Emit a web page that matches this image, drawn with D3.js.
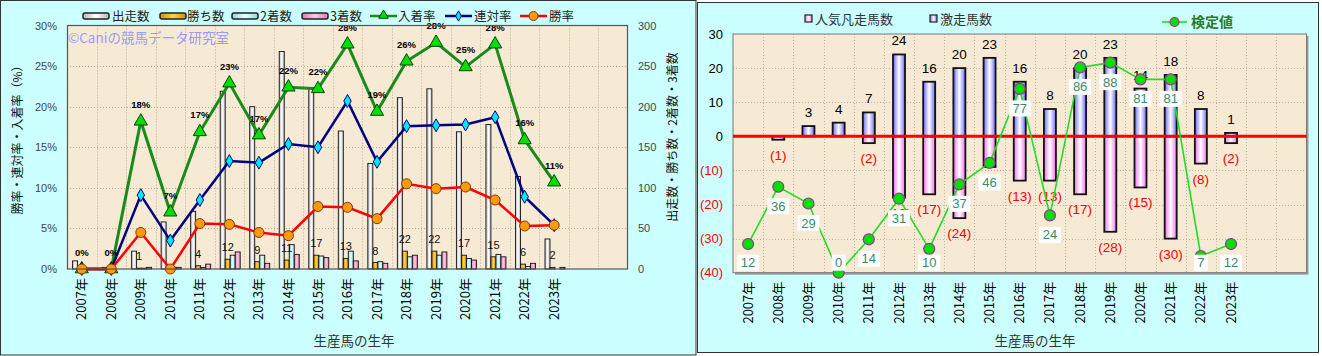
<!DOCTYPE html>
<html><head><meta charset="utf-8">
<script src="https://cdn.jsdelivr.net/npm/d3@7"></script>
<style>body{margin:0;background:#fff}svg{display:block}</style>
</head><body><svg id="c" width="1322" height="356"></svg>
<script>
// ---------------- data ----------------
const years = ["2007年","2008年","2009年","2010年","2011年","2012年","2013年","2014年","2015年","2016年","2017年","2018年","2019年","2020年","2021年","2022年","2023年"];
const slotCount = 19; // two empty slots after 2023
// left chart (counts, right axis)
const runners = [10,2,22,58,71,219,200,268,222,170,130,211,222,169,178,114,37];
const wins    = [0,0,1,0,4,12,9,11,17,13,8,22,22,17,15,6,2];
const seconds = [0,0,1,2,2,17,17,30,16,22,9,15,17,13,18,3,0];
const thirds  = [0,0,2,2,6,21,7,18,14,10,7,17,21,11,15,7,2];
// left chart (rates %, left axis)
const placeRate    = [0,0,18.2,7.0,16.9,22.9,16.5,22.4,22.2,27.7,19.4,25.6,27.9,24.9,27.7,15.9,10.7];
const placeLabels  = ["0%","0%","18%","7%","17%","23%","17%","22%","22%","28%","19%","26%","28%","25%","28%","16%","11%"];
const quinellaRate = [0,0,9.1,3.5,8.5,13.3,13.1,15.4,15.0,20.7,13.2,17.6,17.7,17.8,18.7,8.9,5.4];
const winRate      = [0,0,4.5,0,5.6,5.5,4.5,4.1,7.7,7.6,6.2,10.5,9.9,10.1,8.5,5.3,5.4];
const pctTicks = [0,5,10,15,20,25,30];
const cntTicks = [0,50,100,150,200,250,300];
// right chart
const upsetCounts = [0,0,3,4,7,24,16,20,23,16,8,20,23,14,18,8,1];      // 激走馬数
const flopCounts  = [0,1,0,0,2,18,17,24,9,13,13,17,28,15,30,8,2];      // 人気凡走馬数
const testValues  = [12,36,29,0,14,31,10,37,46,77,24,86,88,81,81,7,12]; // 検定値
const diffTicks = [-40,-30,-20,-10,0,10,20,30];

// ---------------- setup ----------------
const svg = d3.select("#c");
const JP = "'Noto Sans CJK JP','Noto Sans',sans-serif";
const LAT = "'Liberation Sans',Arial,sans-serif";
const defs = svg.append("defs");
function hgrad(id, edge, mid){
  const g = defs.append("linearGradient").attr("id",id).attr("x1","0").attr("x2","1").attr("y1","0").attr("y2","0");
  g.append("stop").attr("offset","0%").attr("stop-color",edge);
  g.append("stop").attr("offset","50%").attr("stop-color",mid);
  g.append("stop").attr("offset","100%").attr("stop-color",edge);
}
hgrad("gWhite","#b8b8b8","#ffffff");
hgrad("gGold","#d09000","#ffd24a");
hgrad("gCyan","#8fd8d8","#e8ffff");
hgrad("gPink","#e07ab0","#ffc8e4");
hgrad("gBlue","#6a6aff","#ffffff");
hgrad("gMag","#f070f0","#ffffff");
const idx = arr => arr.map((v,i)=>({v,i}));

// ================= LEFT CHART =================
svg.append("rect").attr("x",0.5).attr("y",0.5).attr("width",695.5).attr("height",354.5)
  .attr("fill","#ccffff").attr("stroke","#333").attr("stroke-width",1);

const L = {l:67, r:628, t:25.5, b:269};
const xL = d3.scaleBand().domain(d3.range(slotCount)).range([L.l, L.r]);
const yP = d3.scaleLinear().domain([0,30]).range([L.b, L.t]);
const yC = d3.scaleLinear().domain([0,300]).range([L.b, L.t]);

svg.append("rect").attr("x",L.l).attr("y",L.t).attr("width",L.r-L.l).attr("height",L.b-L.t).attr("fill","#f6ead4");
// grid
const gL = svg.append("g").attr("stroke","#b3a890").attr("stroke-dasharray","1,2").attr("stroke-width",1);
pctTicks.slice(1,-1).forEach(t=>gL.append("line").attr("x1",L.l).attr("x2",L.r).attr("y1",Math.round(yP(t))+0.5).attr("y2",Math.round(yP(t))+0.5));
d3.range(1,slotCount).forEach(i=>{const x=Math.round(xL(i))+0.5; gL.append("line").attr("x1",x).attr("x2",x).attr("y1",L.t).attr("y2",L.b);});

// watermark
svg.append("text").attr("x",68).attr("y",43).attr("font-family",JP).attr("font-size",13.5).attr("fill","#9a9aff").text("©Caniの競馬データ研究室");

// bars
const barSeries = [
  {name:"出走数", vals:runners, fill:"url(#gWhite)"},
  {name:"勝ち数", vals:wins, fill:"url(#gGold)"},
  {name:"2着数", vals:seconds, fill:"url(#gCyan)"},
  {name:"3着数", vals:thirds, fill:"url(#gPink)"}
];
const sub = d3.scaleBand().domain(d3.range(4)).range([0,20]);
const off = (xL.bandwidth()-20)/2 + 0.8;
barSeries.forEach((s,si)=>{
  svg.append("g").selectAll("rect").data(idx(s.vals).filter(d=>d.v>0)).join("rect")
    .attr("x",d=>xL(d.i)+off+sub(si))
    .attr("y",d=>yC(d.v))
    .attr("width",sub.bandwidth())
    .attr("height",d=>Math.max(0,yC(0)-yC(d.v)))
    .attr("fill",s.fill).attr("stroke","#111").attr("stroke-width",0.9);
});
// win count labels
svg.append("g").selectAll("text").data(idx(wins).filter(d=>d.v>0)).join("text")
  .attr("x",d=>xL(d.i)+off+sub(1)+sub.bandwidth()/2)
  .attr("y",d=>yC(d.v)-8)
  .attr("text-anchor","middle").attr("font-family",LAT).attr("font-size",11).attr("fill","#111")
  .text(d=>d.v);

// lines
const cx = i=>xL(i)+xL.bandwidth()/2;
const lineGen = d3.line().x((d,i)=>cx(i)).y(d=>yP(d));
svg.append("path").datum(placeRate).attr("d",lineGen).attr("fill","none").attr("stroke","#1a8a1a").attr("stroke-width",3);
svg.append("g").selectAll("path").data(placeRate).join("path")
  .attr("transform",(d,i)=>`translate(${cx(i)},${yP(d)})`)
  .attr("d",d3.symbol(d3.symbolTriangle,75)).attr("fill","#00e000").attr("stroke","#0a400a").attr("stroke-width",1);
svg.append("path").datum(quinellaRate).attr("d",lineGen).attr("fill","none").attr("stroke","#000080").attr("stroke-width",2.5);
svg.append("g").selectAll("path").data(quinellaRate).join("path")
  .attr("transform",(d,i)=>`translate(${cx(i)},${yP(d)})`)
  .attr("d",d3.symbol(d3.symbolDiamond,48)).attr("fill","#00e8f0").attr("stroke","#000080").attr("stroke-width",1);
svg.append("path").datum(winRate).attr("d",lineGen).attr("fill","none").attr("stroke","#ff0000").attr("stroke-width",2.5);
svg.append("g").selectAll("circle").data(winRate).join("circle")
  .attr("cx",(d,i)=>cx(i)).attr("cy",d=>yP(d)).attr("r",5)
  .attr("fill","#ff9a10").attr("stroke","#7a3a00").attr("stroke-width",1);
// place rate labels
svg.append("g").selectAll("text").data(placeRate).join("text")
  .attr("x",(d,i)=>cx(i)).attr("y",d=>yP(d)-13.5)
  .attr("text-anchor","middle").attr("font-family",LAT).attr("font-weight","bold").attr("font-size",9.5).attr("fill","#000")
  .text((d,i)=>placeLabels[i]);

// plot border
svg.append("rect").attr("x",L.l+0.5).attr("y",L.t).attr("width",L.r-L.l-1).attr("height",L.b-L.t).attr("fill","none").attr("stroke","#555").attr("stroke-width",1.2);

// axes
const axL = svg.append("g").attr("transform",`translate(${L.l},0)`)
  .call(d3.axisLeft(yP).tickValues(pctTicks).tickSize(0).tickPadding(10).tickFormat(d=>d+"%"));
axL.select(".domain").remove();
axL.selectAll("text").attr("font-family",LAT).attr("font-size",11).attr("fill","#444");
const axR = svg.append("g").attr("transform",`translate(${L.r},0)`)
  .call(d3.axisRight(yC).tickValues(cntTicks).tickSize(0).tickPadding(10));
axR.select(".domain").remove();
axR.selectAll("text").attr("font-family",LAT).attr("font-size",11).attr("fill","#444");
const axB = svg.append("g").attr("transform",`translate(0,${L.b})`)
  .call(d3.axisBottom(xL).tickValues(d3.range(years.length)).tickSize(0).tickFormat(i=>years[i]));
axB.select(".domain").remove();
axB.selectAll("text").attr("transform","rotate(-90)").attr("x",-9).attr("y",0).attr("dy","0.35em")
  .style("text-anchor","end").attr("font-family",JP).attr("font-size",13).attr("fill","#000");

// axis titles
svg.append("text").attr("transform","translate(22,137) rotate(-90)").attr("text-anchor","middle")
  .attr("font-family",JP).attr("font-size",12).attr("fill","#111").text("勝率・連対率・入着率（%）");
svg.append("text").attr("transform","translate(677,137) rotate(-90)").attr("text-anchor","middle")
  .attr("font-family",JP).attr("font-size",12).attr("fill","#111").text("出走数・勝ち数・2着数・3着数");
svg.append("text").attr("x",354).attr("y",346).attr("text-anchor","middle")
  .attr("font-family",JP).attr("font-size",13.5).attr("fill","#333").text("生産馬の生年");

// legend
const legL = [
  {t:"出走数", kind:"bar", fill:"url(#gWhite)", ix:83, tx:112},
  {t:"勝ち数", kind:"bar", fill:"url(#gGold)", ix:160, tx:187},
  {t:"2着数", kind:"bar", fill:"url(#gCyan)", ix:232, tx:260},
  {t:"3着数", kind:"bar", fill:"url(#gPink)", ix:302, tx:330},
  {t:"入着率", kind:"tri", ix:370, tx:398},
  {t:"連対率", kind:"dia", ix:445, tx:474},
  {t:"勝率", kind:"cir", ix:520, tx:549}
];
const lg = svg.append("g");
legL.forEach(it=>{
  if(it.kind==="bar"){
    lg.append("rect").attr("x",it.ix).attr("y",13).attr("width",26).attr("height",6).attr("rx",2)
      .attr("fill",it.fill).attr("stroke","#222").attr("stroke-width",1.5);
  } else {
    const col = it.kind==="tri"?"#1a8a1a":it.kind==="dia"?"#000080":"#ff0000";
    lg.append("line").attr("x1",it.ix).attr("x2",it.ix+27).attr("y1",16).attr("y2",16).attr("stroke",col).attr("stroke-width",2.5);
    if(it.kind==="tri") lg.append("path").attr("transform",`translate(${it.ix+13.5},15.5)`).attr("d",d3.symbol(d3.symbolTriangle,40)).attr("fill","#00e000").attr("stroke","#0a400a");
    if(it.kind==="dia") lg.append("path").attr("transform",`translate(${it.ix+13.5},16)`).attr("d",d3.symbol(d3.symbolDiamond,30)).attr("fill","#00e8f0").attr("stroke","#000080");
    if(it.kind==="cir") lg.append("circle").attr("cx",it.ix+13.5).attr("cy",16).attr("r",4.5).attr("fill","#ff9a10").attr("stroke","#7a3a00");
  }
  lg.append("text").attr("x",it.tx).attr("y",21).attr("font-family",JP).attr("font-size",12.5).attr("fill","#222").text(it.t);
});

// ================= RIGHT CHART =================
svg.append("rect").attr("x",697.5).attr("y",2.5).attr("width",621).attr("height",350)
  .attr("fill","#ccffff").attr("stroke","#333").attr("stroke-width",1);
const R = {l:733, r:1306.5, t:34, b:272.7};
const xR = d3.scaleBand().domain(d3.range(slotCount)).range([R.l, R.r]);
const yR = d3.scaleLinear().domain([-40,30]).range([R.b, R.t]);
const yT = d3.scaleLinear().domain([0,100]).range([R.b, R.t]);
const rx = i=>xR(i)+xR.bandwidth()/2;

// shadow + bg
svg.append("rect").attr("x",R.l+2).attr("y",R.t+2).attr("width",R.r-R.l).attr("height",R.b-R.t).attr("fill","#9a9a9a");
svg.append("rect").attr("x",R.l).attr("y",R.t).attr("width",R.r-R.l).attr("height",R.b-R.t).attr("fill","#f6ead4");
const gR = svg.append("g").attr("stroke","#bdb3a0").attr("stroke-dasharray","1,2").attr("stroke-width",1);
diffTicks.filter(t=>t!==0 && t!==-40 && t!==30).forEach(t=>gR.append("line").attr("x1",R.l).attr("x2",R.r).attr("y1",Math.round(yR(t))+0.5).attr("y2",Math.round(yR(t))+0.5));
d3.range(1,slotCount).forEach(i=>{const x=Math.round(xR(i))+0.5; gR.append("line").attr("x1",x).attr("x2",x).attr("y1",R.t).attr("y2",R.b);});
svg.append("rect").attr("x",R.l).attr("y",R.t).attr("width",R.r-R.l).attr("height",R.b-R.t).attr("fill","none").attr("stroke","#777").attr("stroke-width",1);

const bw = 12;
// flop bars (down)
svg.append("g").selectAll("rect").data(idx(flopCounts).filter(d=>d.v>0)).join("rect")
  .attr("x",d=>rx(d.i)-bw/2).attr("y",yR(0)).attr("width",bw).attr("height",d=>yR(-d.v)-yR(0))
  .attr("fill","url(#gMag)").attr("stroke","#111").attr("stroke-width",1.8);
// upset bars (up)
svg.append("g").selectAll("rect").data(idx(upsetCounts).filter(d=>d.v>0)).join("rect")
  .attr("x",d=>rx(d.i)-bw/2).attr("y",d=>yR(d.v)).attr("width",bw).attr("height",d=>yR(0)-yR(d.v))
  .attr("fill","url(#gBlue)").attr("stroke","#111").attr("stroke-width",1.8);
// zero line
svg.append("line").attr("x1",R.l).attr("x2",R.r).attr("y1",yR(0)).attr("y2",yR(0)).attr("stroke","#ff0000").attr("stroke-width",3);
// bar labels
svg.append("g").selectAll("text").data(idx(upsetCounts).filter(d=>d.v>0)).join("text")
  .attr("x",d=>rx(d.i)).attr("y",d=>yR(d.v)-9)
  .attr("text-anchor","middle").attr("font-family",LAT).attr("font-size",13.5).attr("fill","#000").text(d=>d.v);
svg.append("g").selectAll("text").data(idx(flopCounts).filter(d=>d.v>0)).join("text")
  .attr("x",d=>rx(d.i)).attr("y",d=>yR(-d.v)+20)
  .attr("text-anchor","middle").attr("font-family",LAT).attr("font-size",13.5).attr("fill","#ff0000").text(d=>`(${d.v})`);

// test value line
svg.append("path").datum(testValues).attr("d",d3.line().x((d,i)=>rx(i)).y(d=>yT(d)))
  .attr("fill","none").attr("stroke","#22dd22").attr("stroke-width",1.6);
svg.append("g").selectAll("circle").data(testValues).join("circle")
  .attr("cx",(d,i)=>rx(i)).attr("cy",d=>yT(d)).attr("r",5.5)
  .attr("fill","#00e000").attr("stroke","#993399").attr("stroke-width",1.2);
const tl = svg.append("g").selectAll("g").data(testValues).join("g")
  .attr("transform",(d,i)=>`translate(${rx(i)},${Math.min(yT(d)+19.5, R.b-10)})`);
tl.append("rect").attr("x",d=>String(d).length>1?-11:-7).attr("y",-8).attr("width",d=>String(d).length>1?22:14).attr("height",16).attr("fill","#fff");
tl.append("text").attr("text-anchor","middle").attr("dy","0.35em").attr("font-family",LAT).attr("font-size",13).attr("fill","#3a8a6a").text(d=>d);

// axes
const ayR = svg.append("g").attr("transform",`translate(${R.l},0)`)
  .call(d3.axisLeft(yR).tickValues(diffTicks).tickSize(0).tickPadding(10).tickFormat(d=>d<0?`(${-d})`:d));
ayR.select(".domain").remove();
ayR.selectAll("text").attr("font-family",LAT).attr("font-size",13).attr("fill",d=>d<0?"#ff0000":"#000");
const axRB = svg.append("g").attr("transform",`translate(0,${R.b})`)
  .call(d3.axisBottom(xR).tickValues(d3.range(years.length)).tickSize(0).tickFormat(i=>years[i]));
axRB.select(".domain").remove();
axRB.selectAll("text").attr("transform","rotate(-90)").attr("x",-9).attr("y",0).attr("dy","0.35em")
  .style("text-anchor","end").attr("font-family",JP).attr("font-size",13).attr("fill","#000");
svg.append("text").attr("x",1035).attr("y",346).attr("text-anchor","middle")
  .attr("font-family",JP).attr("font-size",13.5).attr("fill","#333").text("生産馬の生年");

// legend right
const lr = svg.append("g");
lr.append("rect").attr("x",805).attr("y",15).attr("width",7).attr("height",7).attr("fill","url(#gMag)").attr("stroke","#222").attr("stroke-width",1.2);
lr.append("text").attr("x",815).attr("y",24).attr("font-family",JP).attr("font-size",13).attr("fill","#333").text("人気凡走馬数");
lr.append("rect").attr("x",930).attr("y",15).attr("width",7).attr("height",7).attr("fill","url(#gBlue)").attr("stroke","#222").attr("stroke-width",1.2);
lr.append("text").attr("x",940).attr("y",24).attr("font-family",JP).attr("font-size",13).attr("fill","#333").text("激走馬数");
lr.append("line").attr("x1",1162).attr("x2",1187).attr("y1",22).attr("y2",22).attr("stroke","#22dd22").attr("stroke-width",1.6);
lr.append("circle").attr("cx",1174.5).attr("cy",22).attr("r",4.5).attr("fill","#00e000").attr("stroke","#993399").attr("stroke-width",1.2);
lr.append("text").attr("x",1191).attr("y",27).attr("font-family",JP).attr("font-size",14).attr("font-weight","bold").attr("fill","#2a7a2a").text("検定値");
</script></body></html>
